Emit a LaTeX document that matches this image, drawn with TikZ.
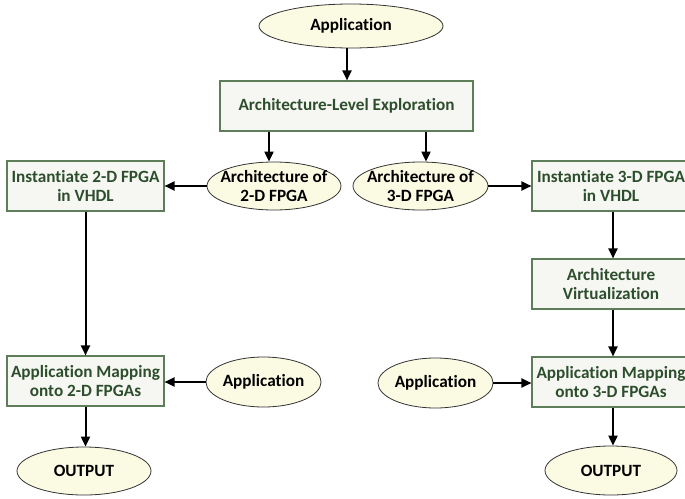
\documentclass[tikz,border=0pt]{standalone}
\usepackage{fontspec}
\setmainfont{Carlito}[Ligatures=NoCommon]
\usetikzlibrary{arrows.meta,shapes.geometric}
\definecolor{boxfill}{HTML}{F6F7F3}
\definecolor{boxline}{HTML}{5E7E5A}
\definecolor{boxtext}{HTML}{2D4E2D}
\definecolor{ellfill}{HTML}{FBFAE2}
\definecolor{ellline}{HTML}{333333}
\tikzset{
  x=1pt, y=-1pt,
  procbox/.style={draw=boxline, fill=boxfill, line width=1.1pt, rectangle, inner sep=0pt,
    text=boxtext, align=center, font=\fontsize{17.2}{18.8}\selectfont\bfseries},
  dataell/.style={draw=ellline, fill=ellfill, line width=0.8pt, ellipse, inner sep=0pt,
    text=black, align=center, font=\fontsize{17.2}{18.8}\selectfont\bfseries},
  tightell/.style={dataell, inner xsep=-14pt, inner ysep=-6pt},
  arr/.style={line width=2pt, -{Triangle[length=10pt,width=9pt]}},
}
\begin{document}
\begin{tikzpicture}
\useasboundingbox (0,0) rectangle (685,498);
\clip (0,0) rectangle (685,498);
% nodes
\node[dataell, minimum width=184pt, minimum height=44pt] (app) at (351,26) {Application};
\node[procbox, minimum width=253pt, minimum height=50pt] (ale) at (346.5,106) {Architecture-Level Exploration};
\node[tightell, minimum width=134pt, minimum height=48pt] (a2) at (274,186) {Architecture of\\2-D FPGA};
\node[tightell, minimum width=135pt, minimum height=48pt] (a3) at (420.5,186) {Architecture of\\3-D FPGA};
\node[procbox, minimum width=157pt, minimum height=50pt] (i2) at (85.5,186) {Instantiate 2-D FPGA\\in VHDL};
\node[procbox, minimum width=158pt, minimum height=50pt] (i3) at (611,186) {Instantiate 3-D FPGA\\in VHDL};
\node[procbox, minimum width=158pt, minimum height=50pt] (av) at (611,284) {Architecture\\Virtualization};
\node[procbox, minimum width=158pt, minimum height=50pt] (m3) at (611,382) {Application Mapping\\onto 3-D FPGAs};
\node[procbox, minimum width=157pt, minimum height=50pt] (m2) at (85.5,381) {Application Mapping\\onto 2-D FPGAs};
\node[dataell, minimum width=103pt, minimum height=50pt] (appL) at (263.5,382) {Application};
\node[dataell, minimum width=103pt, minimum height=50pt] (appR) at (435.5,383) {Application};
\node[dataell, minimum width=134pt, minimum height=48pt] (o2) at (84,471) {OUTPUT};
\node[dataell, minimum width=132pt, minimum height=49pt] (o3) at (611,470.5) {OUTPUT};
% connectors
\draw[arr] ([xshift=-4pt]app.south) -- ([xshift=-4pt]app.south |- ale.north);
\draw[arr] ([xshift=-5pt]a2.north |- ale.south) -- ([xshift=-5pt]a2.north);
\draw[arr] ([xshift=5.5pt]a3.north |- ale.south) -- ([xshift=5.5pt]a3.north);
\draw[arr] (a2.west) -- (a2.west -| i2.east);
\draw[arr] (a3.east) -- (a3.east -| i3.west);
\draw[arr] (i2.south) -- (m2.north);
\draw[arr] ([xshift=2pt]i3.south) -- ([xshift=2pt]av.north);
\draw[arr] ([xshift=2pt]av.south) -- ([xshift=2pt]m3.north);
\draw[arr] (appL.west) -- (appL.west -| m2.east);
\draw[arr] (appR.east) -- (appR.east -| m3.west);
\draw[arr] (m2.south) -- (m2.south |- o2.north);
\draw[arr] ([xshift=2pt]m3.south) -- ([xshift=2pt]o3.north);
\end{tikzpicture}
\end{document}
